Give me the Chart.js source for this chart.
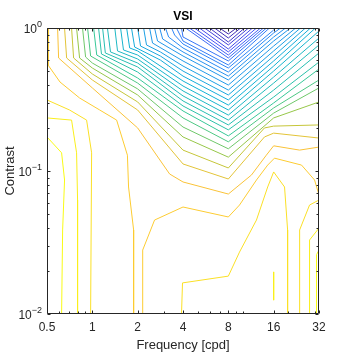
<!DOCTYPE html>
<html>
<head>
<meta charset="utf-8">
<script src="https://cdn.jsdelivr.net/npm/chart.js@4.4.0/dist/chart.umd.min.js"></script>
<style>
  html, body { margin: 0; padding: 0; background: #fff; }
</style>
</head>
<body>
<canvas id="vsiChart" width="354" height="354"></canvas>
<script>
// axis ticks
const freqTicks = [0.5, 1, 2, 4, 8, 16, 32];
const freqMinor = [0.6, 0.7, 0.8, 0.9, 3, 5, 6, 7, 9, 10, 20, 30];
const contrastTicks = [0.01, 0.1, 1];
const contrastExp = ['\u22122', '\u22121', '0'];
const contrastMinor = [0.02, 0.03, 0.04, 0.05, 0.06, 0.07, 0.08, 0.09, 0.2, 0.3, 0.4, 0.5, 0.6, 0.7, 0.8, 0.9];

// level of each traced line, as a fraction of the colour range (0 = lowest VSI level)
const contourLevels = [
  0, 0.03, 0.06, 0.09, 0.12, 0.15, 0.18, 0.21, 0.24, 0.26,
  0.28, 0.30, 0.32, 0.34, 0.35, 0.37, 0.39, 0.41, 0.43, 0.45,
  0.47, 0.49, 0.51, 0.53, 0.57, 0.60, 0.64, 0.69, 0.76, 0.81,
  0.85, 0.88, 0.88, 0.93, 0.93, 0.93, 0.97, 0.97, 0.97, 1, 1
];

// contour lines as [frequency (cpd), contrast] pairs
const contourPaths = [
  [[6.99, 1], [8, 0.908], [9.07, 1]],
  [[6.48, 1], [8, 0.851], [9.64, 1]],
  [[6.0, 1], [8, 0.798], [10.25, 1]],
  [[5.56, 1], [8, 0.761], [10.9, 1]],
  [[5.14, 1], [8, 0.713], [11.58, 1]],
  [[4.76, 1], [8, 0.68], [12.31, 1]],
  [[4.41, 1], [8, 0.647], [13.09, 1]],
  [[4.16, 1], [8, 0.617], [13.7, 1]],
  [[3.91, 1], [4, 0.865], [8, 0.588], [14.34, 1]],
  [[3.62, 1], [4, 0.811], [8, 0.551], [15.0, 1]],
  [[3.36, 1], [3.52, 0.893], [4, 0.773], [8, 0.525], [16, 0.968], [16.5, 1]],
  [[3.06, 1], [3.21, 0.865], [4, 0.725], [8, 0.492], [16, 0.923], [17.8, 1]],
  [[2.8, 1], [2.93, 0.838], [4, 0.68], [8, 0.461], [16, 0.865], [19.2, 1]],
  [[2.59, 1], [2.71, 0.811], [4, 0.637], [8, 0.433], [16, 0.811], [20.7, 1]],
  [[2.4, 1], [2.51, 0.785], [4, 0.588], [8, 0.399], [16, 0.748], [22.4, 1]],
  [[2.19, 1], [2.29, 0.761], [2.83, 0.68], [4, 0.542], [8, 0.368], [16, 0.691], [24.1, 1]],
  [[2, 1], [2.09, 0.748], [2.83, 0.637], [4, 0.5], [8, 0.34], [16, 0.637], [26, 1]],
  [[1.82, 1], [1.91, 0.736], [2.83, 0.597], [4, 0.461], [8, 0.314], [16, 0.588], [28.1, 1]],
  [[1.69, 1], [1.77, 0.725], [2, 0.691], [4, 0.426], [8, 0.289], [16, 0.542], [30.3, 1]],
  [[1.54, 1], [1.61, 0.702], [2, 0.647], [4, 0.393], [8, 0.267], [16, 0.5], [32, 0.953]],
  [[1.41, 1], [1.47, 0.691], [2, 0.607], [4, 0.363], [8, 0.246], [16, 0.454], [32, 0.851]],
  [[1.26, 1], [1.32, 0.68], [2, 0.569], [4, 0.335], [8, 0.227], [16, 0.412], [32, 0.761]],
  [[1.17, 1], [1.22, 0.669], [2, 0.534], [4, 0.309], [8, 0.21], [16, 0.368], [32, 0.669]],
  [[1.1, 1], [1.15, 0.658], [2, 0.492], [4, 0.285], [8, 0.194], [16, 0.329], [32, 0.578]],
  [[1.02, 1], [1.07, 0.647], [2, 0.447], [4, 0.263], [8, 0.176], [16, 0.299], [32, 0.517]],
  [[0.93, 1], [0.974, 0.637], [2, 0.412], [4, 0.235], [8, 0.16], [16, 0.276], [32, 0.433]],
  [[0.861, 1], [0.902, 0.627], [1, 0.569], [2, 0.375], [4, 0.203], [8, 0.143], [16, 0.254], [32, 0.381]],
  [[0.786, 1], [0.823, 0.617], [1, 0.525], [2, 0.34], [4, 0.173], [8, 0.125], [16, 0.235], [32, 0.304]],
  [[0.728, 1], [0.751, 0.617], [1, 0.477], [2, 0.304], [4, 0.14], [8, 0.105], [13.9, 0.2], [16, 0.206], [32, 0.21]],
  [[0.654, 1], [0.675, 0.617], [1, 0.433], [2, 0.267], [4, 0.112], [8, 0.0879], [13.9, 0.173], [16, 0.184], [32, 0.17]],
  [[0.588, 1], [0.597, 0.617], [1, 0.381], [2, 0.2], [3.26, 0.0953], [4, 0.0838], [8, 0.069], [11.4, 0.0938], [14.3, 0.129], [16, 0.15], [23.8, 0.14], [32, 0.147]],
  [[2.16, 0.01], [2.16, 0.028], [2.59, 0.0454], [4, 0.056], [8, 0.0477], [9.49, 0.0578], [12.3, 0.0865], [14.6, 0.11], [16.2, 0.123], [24.5, 0.11], [29.9, 0.0865], [32, 0.068]],
  [[0.51, 1], [0.508, 0.551], [0.61, 0.419], [0.823, 0.324], [1.12, 0.267], [1.45, 0.227], [1.71, 0.129], [1.74, 0.0773], [1.88, 0.0387], [1.88, 0.01]],
  [[0.5, 0.314], [0.706, 0.267], [0.916, 0.227], [0.989, 0.134], [0.974, 0.01]],
  [[3.91, 0.01], [3.97, 0.0165], [8, 0.0184], [9.49, 0.0271], [12.3, 0.0454], [14.6, 0.0773], [16, 0.0985], [18.9, 0.0773], [19.8, 0.0387], [19.8, 0.01]],
  [[23.8, 0.01], [23.8, 0.0387], [27.7, 0.0578], [32, 0.0627]],
  [[0.5, 0.235], [0.728, 0.227], [0.786, 0.134], [0.798, 0.0627], [0.798, 0.01]],
  [[27.7, 0.01], [27.7, 0.0329], [32, 0.0399]],
  [[16, 0.0197], [16, 0.0125]],
  [[0.5, 0.173], [0.625, 0.134], [0.654, 0.0865], [0.635, 0.0387], [0.625, 0.01]],
  [[30.8, 0.01], [30.8, 0.026], [32, 0.028]]
];

// parula colormap, 8 stops
const parulaStops = [
  [62, 38, 168], [72, 82, 244], [46, 135, 247], [18, 177, 214],
  [55, 200, 151], [171, 199, 57], [254, 195, 56], [249, 251, 21]
];
function parula(t) {
  const s = Math.min(Math.max(t, 0), 1) * (parulaStops.length - 1);
  const i = Math.min(Math.floor(s), parulaStops.length - 2);
  const f = s - i;
  const a = parulaStops[i], b = parulaStops[i + 1];
  const c = a.map((v, k) => Math.round(v + (b[k] - v) * f));
  return `rgb(${c[0]}, ${c[1]}, ${c[2]})`;
}

const axisColor = '#262626';
const fontFamily = '"Liberation Sans", Arial, Helvetica, sans-serif';

// box around the axes, inward tick marks and the 10^n labels
const axesFrame = {
  id: 'axesFrame',
  afterDraw(chart) {
    const { ctx, chartArea: a, scales: { x, y } } = chart;
    const L = Math.round(a.left) + 0.5, R = Math.round(a.right) - 0.5;
    const T = Math.round(a.top) + 0.5, B = Math.round(a.bottom) - 0.5;
    ctx.save();
    ctx.strokeStyle = axisColor;
    ctx.lineWidth = 1;
    ctx.beginPath();
    ctx.rect(L, T, R - L, B - T);
    const xTick = (v, len) => {
      const p = Math.round(x.getPixelForValue(v)) + 0.5;
      ctx.moveTo(p, B); ctx.lineTo(p, B - len);
      ctx.moveTo(p, T); ctx.lineTo(p, T + len);
    };
    const yTick = (v, len) => {
      const p = Math.round(y.getPixelForValue(v)) + 0.5;
      ctx.moveTo(L, p); ctx.lineTo(L + len, p);
      ctx.moveTo(R, p); ctx.lineTo(R - len, p);
    };
    freqTicks.forEach(v => xTick(v, 3));
    freqMinor.forEach(v => xTick(v, 2));
    contrastTicks.forEach(v => yTick(v, 3));
    contrastMinor.forEach(v => yTick(v, 2));
    ctx.stroke();

    ctx.fillStyle = axisColor;
    ctx.textBaseline = 'alphabetic';
    ctx.textAlign = 'left';
    contrastTicks.forEach((v, i) => {
      const p = y.getPixelForValue(v);
      ctx.font = '12px ' + fontFamily;
      const wBase = ctx.measureText('10').width;
      ctx.font = '9px ' + fontFamily;
      const wExp = ctx.measureText(contrastExp[i]).width;
      const x0 = a.left - 5 - wBase - wExp;
      ctx.font = '12px ' + fontFamily;
      ctx.fillText('10', x0, p + 4.5);
      ctx.font = '9px ' + fontFamily;
      ctx.fillText(contrastExp[i], x0 + wBase, p - 1.5);
    });
    ctx.restore();
  }
};

new Chart(document.getElementById('vsiChart'), {
  type: 'scatter',
  data: {
    datasets: contourPaths.map((path, i) => ({
      data: path.map(([f, c]) => ({ x: f, y: c })),
      showLine: true,
      borderColor: parula(contourLevels[i]),
      borderWidth: 1,
      pointRadius: 0,
      fill: false,
      tension: 0
    }))
  },
  options: {
    responsive: false,
    animation: false,
    devicePixelRatio: 1,
    layout: { padding: { left: 0, right: 35, top: 0, bottom: 0 } },
    plugins: {
      legend: { display: false },
      tooltip: { enabled: false },
      title: {
        display: true,
        text: 'VSI',
        fullSize: false,
        color: '#000',
        font: { family: fontFamily, size: 12, weight: 'bold' },
        padding: { top: 9, bottom: 4.6 }
      }
    },
    scales: {
      x: {
        type: 'logarithmic',
        min: 0.5,
        max: 32,
        afterBuildTicks: s => { s.ticks = freqTicks.map(v => ({ value: v })); },
        afterFit: s => { s.height = 40; },
        grid: { display: false, drawTicks: false },
        border: { display: false },
        ticks: {
          autoSkip: false,
          maxRotation: 0,
          padding: 6,
          color: axisColor,
          font: { family: fontFamily, size: 12 },
          callback: v => String(v)
        },
        title: {
          display: true,
          text: 'Frequency [cpd]',
          color: axisColor,
          font: { family: fontFamily, size: 13 },
          padding: { top: 0, bottom: 1 }
        }
      },
      y: {
        type: 'logarithmic',
        min: 0.01,
        max: 1,
        afterBuildTicks: s => { s.ticks = contrastTicks.map(v => ({ value: v })); },
        afterFit: s => { s.width = 47; },
        grid: { display: false, drawTicks: false },
        border: { display: false },
        ticks: { display: false },
        title: {
          display: true,
          text: 'Contrast',
          color: axisColor,
          font: { family: fontFamily, size: 13 },
          padding: { top: 3, bottom: 0 }
        }
      }
    }
  },
  plugins: [axesFrame]
});
</script>
</body>
</html>
